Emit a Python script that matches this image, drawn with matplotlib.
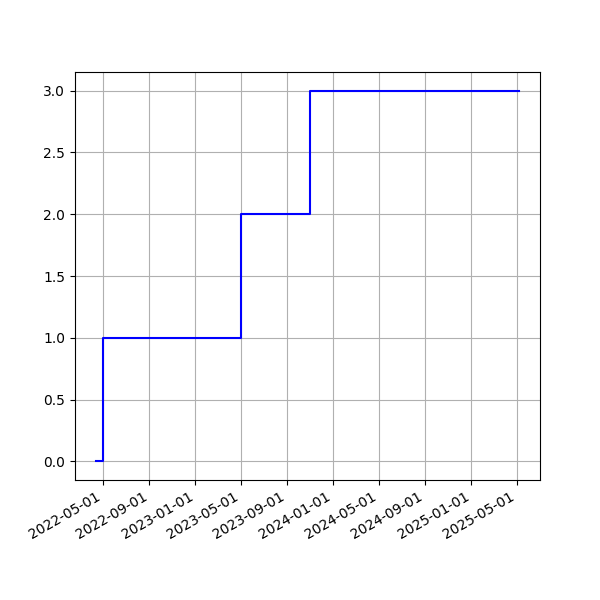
import matplotlib
matplotlib.use("Agg")
import matplotlib.pyplot as plt
import matplotlib.dates as mdates
import numpy as np

dates = np.array(["2022-04-13", "2022-04-30", "2023-05-01", "2023-11-01", "2025-05-07"], dtype="datetime64[D]")
values = [0, 1, 2, 3, 3]

fig, ax = plt.subplots(figsize=(6, 6), dpi=100)
ax.plot(dates, values, color="b", drawstyle="steps-post")
ax.xaxis.set_major_locator(mdates.MonthLocator(bymonth=[1, 5, 9]))
ax.xaxis.set_major_formatter(mdates.DateFormatter("%Y-%m-%d"))
ax.grid(True)
fig.autofmt_xdate()
fig.savefig("out.png")
